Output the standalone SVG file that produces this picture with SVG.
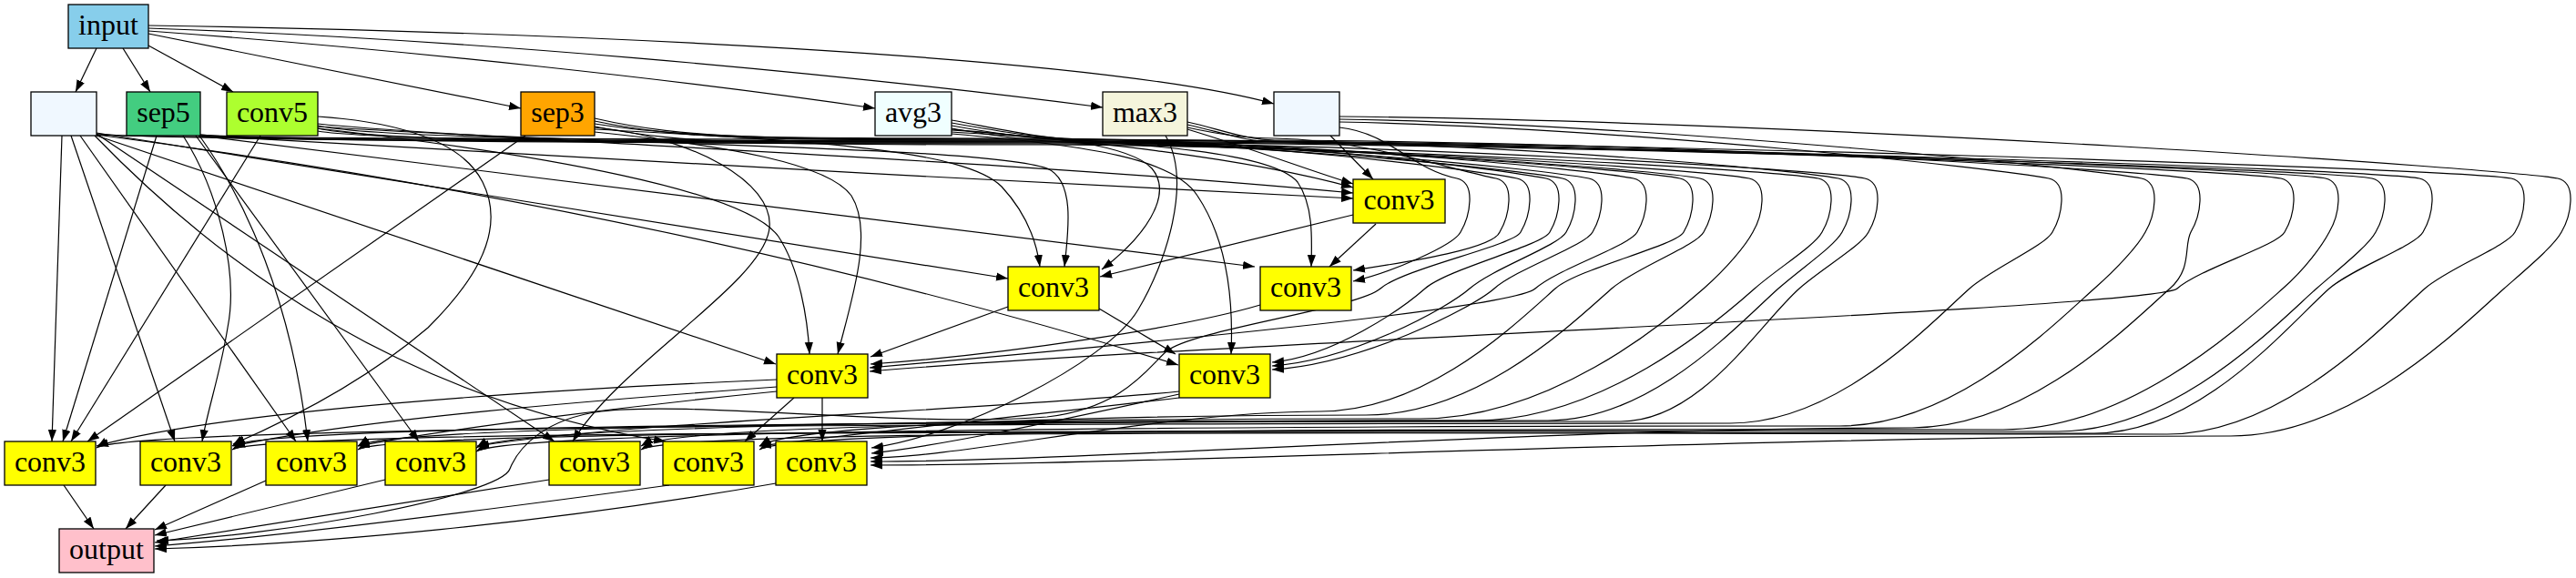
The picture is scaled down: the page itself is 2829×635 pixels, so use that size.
<svg xmlns="http://www.w3.org/2000/svg" width="2829" height="635" viewBox="0 0 2829 635">
<defs>
<marker id="ah" markerUnits="userSpaceOnUse" markerWidth="14" markerHeight="10" refX="13" refY="5" orient="auto" viewBox="0 0 14 10"><path d="M0,0.4 L13,5 L0,9.6 z" fill="#000"/></marker>
</defs>
<style>
.e path{fill:none;stroke:#000;stroke-width:1.2;marker-end:url(#ah)}
.n rect{stroke:#000;stroke-width:1.3}
.n text{font-family:'Liberation Serif','Times New Roman','DejaVu Serif',serif;font-size:32px;text-anchor:middle;fill:#000}
.cv rect{fill:#ffff00}
</style>
<rect width="2829" height="635" fill="#fff"/>
<g id="connectors" class="e">
<path d="M106,53 L83,101"/>
<path d="M135,53 L165,101"/>
<path d="M163,50 L256,101"/>
<path d="M163,37 L572,119"/>
<path d="M163,34 C450,55 750,88 961,119"/>
<path d="M163,31 C500,42 900,78 1211,118"/>
<path d="M163,28 C600,35 1200,60 1399,114"/>
<path d="M1461,149 L1508,197"/>
<path d="M1304,142 C1380,165 1440,188 1486,202"/>
<path d="M1045,142 C1150,152 1350,168 1486,206"/>
<path d="M349,136 C500,152 1100,175 1486,212"/>
<path d="M220,149 C500,165 1100,200 1486,218"/>
<path d="M1486,236 L1208,304"/>
<path d="M106,146 L1107,306"/>
<path d="M653,142 C900,155 1060,165 1100,205 C1125,232 1138,262 1142,293"/>
<path d="M349,139 C650,160 1080,160 1150,185 C1180,198 1174,250 1169,293"/>
<path d="M1045,143 C1150,150 1240,158 1265,185 C1290,215 1255,262 1210,296"/>
<path d="M1511,246 L1460,293"/>
<path d="M1045,145 C1250,158 1395,165 1425,200 C1442,225 1441,260 1440,293"/>
<path d="M218,149 L1378,293"/>
<path d="M1107,337 L956,392"/>
<path d="M349,141 C600,170 820,210 855,260 C878,295 887,350 889,389"/>
<path d="M653,145 C800,160 910,180 935,215 C960,255 935,330 920,389"/>
<path d="M106,149 L852,400"/>
<path d="M1384,335 C1300,360 1100,390 956,400"/>
<path d="M1207,339 L1291,389"/>
<path d="M1045,147 C1200,160 1290,175 1315,215 C1345,260 1355,320 1352,389"/>
<path d="M106,148 C500,200 900,280 1294,401"/>
<path d="M68,149 L57,485"/>
<path d="M172,149 L69,485"/>
<path d="M286,149 L78,485"/>
<path d="M577,149 L96,485"/>
<path d="M853,417 C600,428 250,450 106,490"/>
<path d="M78,149 L192,485"/>
<path d="M201,149 C240,210 262,300 250,360 C242,410 228,450 222,485"/>
<path d="M349,128 C450,135 510,160 530,200 C560,260 510,320 470,360 C400,420 320,460 256,488"/>
<path d="M853,425 C650,440 400,460 256,490"/>
<path d="M88,149 L325,485"/>
<path d="M219,149 C270,220 320,330 338,485"/>
<path d="M853,430 C700,445 500,470 393,490"/>
<path d="M215,149 L460,485"/>
<path d="M1295,430 C1100,450 700,462 524,490"/>
<path d="M106,147 L609,485"/>
<path d="M653,140 C760,150 850,200 845,250 C840,310 680,400 629,485"/>
<path d="M104,149 C250,300 450,440 731,485"/>
<path d="M872,437 L818,485"/>
<path d="M1295,437 C1100,460 950,475 834,490"/>
<path d="M903,437 L903,485"/>
<path d="M1280,149 C1310,200 1280,290 1250,340 C1215,400 1050,480 957,492"/>
<path d="M1295,433 C1150,465 1030,490 957,498"/>
<path d="M70,533 L103,581"/>
<path d="M182,533 L138,581"/>
<path d="M292,528 L170,582"/>
<path d="M423,527 L170,588"/>
<path d="M603,527 L170,596"/>
<path d="M735,533 C500,565 300,590 170,600"/>
<path d="M852,531 C600,575 350,598 170,603"/>
<path d="M1471,140 C1527,146 1550,186 1600,196 C1622,201 1614,238 1604,255 C1596,270 1526,300 1486,309"/>
<path d="M1304,140 C1340,148 1370,152 1400,152 C1501,154 1593,186 1643,196 C1665,201 1657,238 1647,255 C1639,275 1530,290 1486,297"/>
<path d="M653,136 C753,152 850,152 1150,152 C1360,154 1616,186 1666,196 C1688,201 1680,238 1670,255 C1662,270 1541,295 1516,317 C1491,339 1310,362 1281,386 C1262,402 1235,448 1150,458 C1000,470 760,440 660,452 C600,460 570,490 560,515 C550,545 300,590 172,594"/>
<path d="M1045,135 C1100,145 1150,153 1200,153 C1403,155 1648,186 1698,196 C1720,201 1712,238 1702,255 C1694,270 1590,295 1565,317 C1540,339 1464,392 1397,398"/>
<path d="M349,138 C420,155 850,155 1150,155 C1380,157 1666,186 1716,196 C1738,201 1730,238 1720,255 C1712,270 1639,295 1614,317 C1589,339 1484,396 1397,402"/>
<path d="M653,133 C753,154 850,154 1150,154 C1392,156 1695,186 1745,196 C1767,201 1759,238 1749,255 C1741,270 1666,295 1641,317 C1616,339 1495,400 1397,406"/>
<path d="M1045,138 C1100,148 1150,155 1200,155 C1442,157 1744,186 1794,196 C1816,201 1808,238 1798,255 C1790,270 1711,295 1686,317 C1661,339 1250,378 955,404"/>
<path d="M106,147 C206,156 850,156 1150,156 C1432,158 1795,186 1845,196 C1867,201 1859,238 1849,255 C1841,270 1733,295 1708,317 C1663,357 1566,452 1450,452 C1277,452 1055,503 956,503"/>
<path d="M220,148 C320,157 850,157 1150,157 C1441,159 1817,186 1867,196 C1889,201 1881,238 1871,255 C1863,270 1795,295 1770,317 C1725,357 1622,456 1500,456 C1267,456 874,464 834,490"/>
<path d="M349,141 C420,158 850,158 1150,158 C1462,160 1871,186 1921,196 C1943,201 1935,238 1925,255 C1917,270 1896,295 1871,317 C1826,357 1700,460 1560,460 C1197,460 563,466 523,492"/>
<path d="M653,139 C753,159 850,159 1150,159 C1493,161 1947,186 1997,196 C2019,201 2011,238 2001,255 C1993,270 1952,295 1927,317 C1882,357 1758,462 1620,462 C1299,462 744,464 704,490"/>
<path d="M1304,137 C1340,145 1370,156 1400,156 C1652,158 1969,186 2019,196 C2041,201 2033,238 2023,255 C2015,270 1978,295 1953,317 C1908,357 1814,462 1700,462 C1243,462 433,464 393,490"/>
<path d="M1045,141 C1100,151 1150,157 1200,157 C1543,159 1998,186 2048,196 C2070,201 2062,238 2052,255 C2044,270 2001,295 1976,317 C1931,357 1868,463 1780,463 C1246,463 295,464 255,490"/>
<path d="M1471,134 C1787,140 2200,186 2250,196 C2272,201 2264,238 2254,255 C2246,270 2188,295 2163,317 C2118,357 2018,465 1900,465 C1272,465 146,466 106,492"/>
<path d="M1471,131 C1827,137 2302,186 2352,196 C2374,201 2366,238 2356,255 C2348,270 2325,295 2300,317 C2255,357 2146,468 2020,468 C1496,468 563,470 523,496"/>
<path d="M1304,134 C1340,142 1370,154 1400,154 C1805,156 2352,186 2402,196 C2424,201 2416,238 2406,255 C2398,270 2408,295 2383,317 C2338,357 2227,470 2100,470 C1700,470 1185,507 956,507"/>
<path d="M653,130 C753,153 850,153 1150,153 C1696,155 2455,186 2505,196 C2527,201 2519,238 2509,255 C2501,270 2416,295 2391,317 C2366,339 1300,378 955,408"/>
<path d="M1045,132 C1100,142 1150,154 1200,154 C1746,156 2504,186 2554,196 C2576,201 2568,238 2558,255 C2550,270 2532,295 2507,317 C2462,357 2338,472 2200,472 C1722,472 874,468 834,494"/>
<path d="M349,144 C420,156 850,156 1150,156 C1736,158 2555,186 2605,196 C2627,201 2619,238 2609,255 C2601,270 2569,295 2544,317 C2499,357 2388,474 2260,474 C1607,474 433,468 393,494"/>
<path d="M220,148 C320,155 850,155 1150,155 C1757,157 2607,186 2657,196 C2679,201 2671,238 2661,255 C2653,270 2583,295 2558,317 C2513,357 2416,476 2300,476 C1584,476 295,468 255,494"/>
<path d="M106,148 C206,153 850,153 1150,153 C1797,155 2708,186 2758,196 C2780,201 2772,238 2762,255 C2754,270 2688,295 2663,317 C2618,357 2507,477 2380,477 C1793,477 744,468 704,494"/>
<path d="M1471,128 C2010,134 2759,186 2809,196 C2831,201 2823,238 2813,255 C2805,270 2775,295 2750,317 C2705,357 2585,479 2450,479 C1927,479 1255,511 956,511"/>
</g>
<g id="node-input" class="n"><rect x="75" y="5" width="88" height="48" fill="#87ceeb"/><text x="119" y="38" font-family="Liberation Serif, serif">input</text></g>
<g id="node-op1" class="n"><rect x="34" y="101" width="72" height="48" fill="#f0f8ff"/></g>
<g id="node-sep5" class="n"><rect x="139" y="101" width="81" height="48" fill="#43cd80"/><text x="179.5" y="134" font-family="Liberation Serif, serif">sep5</text></g>
<g id="node-conv5" class="n"><rect x="249" y="101" width="100" height="48" fill="#adff2f"/><text x="299" y="134" font-family="Liberation Serif, serif">conv5</text></g>
<g id="node-sep3" class="n"><rect x="572" y="101" width="81" height="48" fill="#ffa500"/><text x="612.5" y="134" font-family="Liberation Serif, serif">sep3</text></g>
<g id="node-avg3" class="n"><rect x="961" y="101" width="84" height="48" fill="#f0ffff"/><text x="1003" y="134" font-family="Liberation Serif, serif">avg3</text></g>
<g id="node-max3" class="n"><rect x="1211" y="101" width="93" height="48" fill="#f5f5dc"/><text x="1257.5" y="134" font-family="Liberation Serif, serif">max3</text></g>
<g id="node-op2" class="n"><rect x="1399" y="101" width="72" height="48" fill="#f0f8ff"/></g>
<g id="node-c3b" class="n cv"><rect x="1486" y="197" width="101" height="48"/><text x="1536.5" y="230" font-family="Liberation Serif, serif">conv3</text></g>
<g id="node-c3a" class="n cv"><rect x="1107" y="293" width="100" height="48"/><text x="1157" y="326" font-family="Liberation Serif, serif">conv3</text></g>
<g id="node-c3c" class="n cv"><rect x="1384" y="293" width="100" height="48"/><text x="1434" y="326" font-family="Liberation Serif, serif">conv3</text></g>
<g id="node-c3d" class="n cv"><rect x="853" y="389" width="100" height="48"/><text x="903" y="422" font-family="Liberation Serif, serif">conv3</text></g>
<g id="node-c3e" class="n cv"><rect x="1295" y="389" width="100" height="48"/><text x="1345" y="422" font-family="Liberation Serif, serif">conv3</text></g>
<g id="node-r1" class="n cv"><rect x="5" y="485" width="100" height="48"/><text x="55" y="518" font-family="Liberation Serif, serif">conv3</text></g>
<g id="node-r2" class="n cv"><rect x="154" y="485" width="100" height="48"/><text x="204" y="518" font-family="Liberation Serif, serif">conv3</text></g>
<g id="node-r3" class="n cv"><rect x="292" y="485" width="100" height="48"/><text x="342" y="518" font-family="Liberation Serif, serif">conv3</text></g>
<g id="node-r4" class="n cv"><rect x="423" y="485" width="100" height="48"/><text x="473" y="518" font-family="Liberation Serif, serif">conv3</text></g>
<g id="node-r5" class="n cv"><rect x="603" y="485" width="100" height="48"/><text x="653" y="518" font-family="Liberation Serif, serif">conv3</text></g>
<g id="node-r6" class="n cv"><rect x="728" y="485" width="100" height="48"/><text x="778" y="518" font-family="Liberation Serif, serif">conv3</text></g>
<g id="node-r7" class="n cv"><rect x="852" y="485" width="100" height="48"/><text x="902" y="518" font-family="Liberation Serif, serif">conv3</text></g>
<g id="node-output" class="n"><rect x="65" y="581" width="104" height="48" fill="#ffc0cb"/><text x="117" y="614" font-family="Liberation Serif, serif">output</text></g>
</svg>
